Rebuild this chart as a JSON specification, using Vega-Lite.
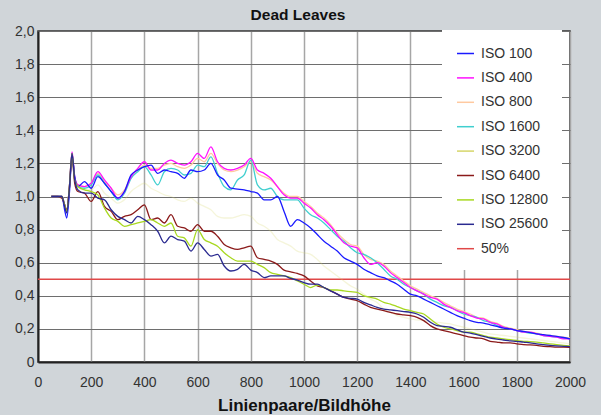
{
  "$schema": "https://vega.github.io/schema/vega-lite/v6.json",
  "width": 532,
  "height": 331,
  "autosize": "none",
  "padding": {"left": 38, "top": 31, "right": 31, "bottom": 53},
  "background": "#d0d5d9",
  "title": {"text": "Dead Leaves", "fontSize": 15.5, "fontWeight": "bold", "color": "#111", "anchor": "middle", "offset": 1, "dx": -6},
  "config": {
    "font": "Liberation Sans, Arial, sans-serif",
    "view": {"fill": "white", "stroke": "#333", "strokeWidth": 1.5}
  },
  "data": {"values": [
    {"x": 0, "50%": 0.5},
    {"x": 50, "ISO 100": 1.0, "ISO 400": 1.0, "ISO 800": 1.0, "ISO 1600": 1.0, "ISO 3200": 1.0, "ISO 6400": 1.0, "ISO 12800": 1.0, "ISO 25600": 1.0},
    {"x": 75, "ISO 100": 1.0, "ISO 400": 1.0, "ISO 800": 1.0, "ISO 1600": 1.0, "ISO 3200": 1.0, "ISO 6400": 1.0, "ISO 12800": 1.0, "ISO 25600": 1.0},
    {"x": 90, "ISO 100": 1.0, "ISO 400": 1.0, "ISO 800": 1.0, "ISO 1600": 1.0, "ISO 3200": 1.0, "ISO 6400": 0.99, "ISO 12800": 1.0, "ISO 25600": 1.0},
    {"x": 100, "ISO 100": 0.92, "ISO 400": 0.95, "ISO 800": 0.95, "ISO 1600": 0.95, "ISO 3200": 0.95, "ISO 6400": 0.95, "ISO 12800": 0.95, "ISO 25600": 0.94},
    {"x": 108, "ISO 100": 0.87, "ISO 400": 0.91, "ISO 800": 0.91, "ISO 1600": 0.91, "ISO 3200": 0.91, "ISO 6400": 0.92, "ISO 12800": 0.91, "ISO 25600": 0.9},
    {"x": 118, "ISO 100": 1.02, "ISO 400": 1.06, "ISO 800": 1.06, "ISO 1600": 1.06, "ISO 3200": 1.06, "ISO 6400": 1.05, "ISO 12800": 1.06, "ISO 25600": 1.05},
    {"x": 128, "ISO 100": 1.25, "ISO 400": 1.27, "ISO 800": 1.26, "ISO 1600": 1.26, "ISO 3200": 1.25, "ISO 6400": 1.24, "ISO 12800": 1.26, "ISO 25600": 1.26},
    {"x": 138, "ISO 100": 1.12, "ISO 400": 1.12, "ISO 800": 1.11, "ISO 1600": 1.11, "ISO 3200": 1.1, "ISO 6400": 1.08, "ISO 12800": 1.1, "ISO 25600": 1.1},
    {"x": 150, "ISO 100": 1.06, "ISO 400": 1.07, "ISO 800": 1.07, "ISO 1600": 1.06, "ISO 3200": 1.05, "ISO 6400": 1.03, "ISO 12800": 1.06, "ISO 25600": 1.04},
    {"x": 175, "ISO 100": 1.09, "ISO 400": 1.06, "ISO 800": 1.06, "ISO 1600": 1.05, "ISO 3200": 1.04, "ISO 6400": 1.02, "ISO 12800": 1.04, "ISO 25600": 1.02},
    {"x": 200, "ISO 100": 1.05, "ISO 400": 1.08, "ISO 800": 1.08, "ISO 1600": 1.07, "ISO 3200": 1.04, "ISO 6400": 0.97, "ISO 12800": 1.03, "ISO 25600": 1.02},
    {"x": 225, "ISO 100": 1.12, "ISO 400": 1.15, "ISO 800": 1.14, "ISO 1600": 1.13, "ISO 3200": 1.07, "ISO 6400": 1.03, "ISO 12800": 1.01, "ISO 25600": 0.99},
    {"x": 250, "ISO 100": 1.08, "ISO 400": 1.1, "ISO 800": 1.09, "ISO 1600": 1.08, "ISO 3200": 1.02, "ISO 6400": 0.94, "ISO 12800": 0.93, "ISO 25600": 0.98},
    {"x": 275, "ISO 100": 1.03, "ISO 400": 1.05, "ISO 800": 1.05, "ISO 1600": 1.03, "ISO 3200": 0.99, "ISO 6400": 0.91, "ISO 12800": 0.87, "ISO 25600": 0.92},
    {"x": 300, "ISO 100": 0.99, "ISO 400": 0.99, "ISO 800": 1.01, "ISO 1600": 0.98, "ISO 3200": 0.96, "ISO 6400": 0.86, "ISO 12800": 0.85, "ISO 25600": 0.88},
    {"x": 325, "ISO 100": 1.03, "ISO 400": 1.03, "ISO 800": 1.04, "ISO 1600": 1.02, "ISO 3200": 0.98, "ISO 6400": 0.88, "ISO 12800": 0.82, "ISO 25600": 0.86},
    {"x": 350, "ISO 100": 1.13, "ISO 400": 1.12, "ISO 800": 1.12, "ISO 1600": 1.11, "ISO 3200": 1.03, "ISO 6400": 0.89, "ISO 12800": 0.83, "ISO 25600": 0.84},
    {"x": 375, "ISO 100": 1.16, "ISO 400": 1.17, "ISO 800": 1.16, "ISO 1600": 1.15, "ISO 3200": 1.06, "ISO 6400": 0.92, "ISO 12800": 0.84, "ISO 25600": 0.88},
    {"x": 400, "ISO 100": 1.18, "ISO 400": 1.21, "ISO 800": 1.19, "ISO 1600": 1.18, "ISO 3200": 1.08, "ISO 6400": 0.95, "ISO 12800": 0.85, "ISO 25600": 0.86},
    {"x": 425, "ISO 100": 1.19, "ISO 400": 1.16, "ISO 800": 1.17, "ISO 1600": 1.13, "ISO 3200": 1.05, "ISO 6400": 0.86, "ISO 12800": 0.86, "ISO 25600": 0.83},
    {"x": 450, "ISO 100": 1.14, "ISO 400": 1.16, "ISO 800": 1.17, "ISO 1600": 1.07, "ISO 3200": 1.03, "ISO 6400": 0.87, "ISO 12800": 0.84, "ISO 25600": 0.79},
    {"x": 475, "ISO 100": 1.16, "ISO 400": 1.2, "ISO 800": 1.19, "ISO 1600": 1.15, "ISO 3200": 1.01, "ISO 6400": 0.84, "ISO 12800": 0.82, "ISO 25600": 0.72},
    {"x": 500, "ISO 100": 1.15, "ISO 400": 1.22, "ISO 800": 1.2, "ISO 1600": 1.17, "ISO 3200": 1.0, "ISO 6400": 0.89, "ISO 12800": 0.84, "ISO 25600": 0.76},
    {"x": 525, "ISO 100": 1.14, "ISO 400": 1.2, "ISO 800": 1.18, "ISO 1600": 1.16, "ISO 3200": 0.98, "ISO 6400": 0.82, "ISO 12800": 0.76, "ISO 25600": 0.74},
    {"x": 550, "ISO 100": 1.11, "ISO 400": 1.19, "ISO 800": 1.17, "ISO 1600": 1.13, "ISO 3200": 0.97, "ISO 6400": 0.81, "ISO 12800": 0.75, "ISO 25600": 0.73},
    {"x": 575, "ISO 100": 1.16, "ISO 400": 1.21, "ISO 800": 1.19, "ISO 1600": 1.14, "ISO 3200": 0.99, "ISO 6400": 0.79, "ISO 12800": 0.7, "ISO 25600": 0.67},
    {"x": 600, "ISO 100": 1.15, "ISO 400": 1.26, "ISO 800": 1.23, "ISO 1600": 1.19, "ISO 3200": 0.96, "ISO 6400": 0.83, "ISO 12800": 0.8, "ISO 25600": 0.72},
    {"x": 625, "ISO 100": 1.16, "ISO 400": 1.23, "ISO 800": 1.21, "ISO 1600": 1.18, "ISO 3200": 0.94, "ISO 6400": 0.79, "ISO 12800": 0.74, "ISO 25600": 0.68},
    {"x": 650, "ISO 100": 1.2, "ISO 400": 1.3, "ISO 800": 1.26, "ISO 1600": 1.24, "ISO 3200": 0.92, "ISO 6400": 0.79, "ISO 12800": 0.72, "ISO 25600": 0.64},
    {"x": 675, "ISO 100": 1.13, "ISO 400": 1.21, "ISO 800": 1.2, "ISO 1600": 1.14, "ISO 3200": 0.88, "ISO 6400": 0.76, "ISO 12800": 0.7, "ISO 25600": 0.65},
    {"x": 700, "ISO 100": 1.1, "ISO 400": 1.17, "ISO 800": 1.16, "ISO 1600": 1.06, "ISO 3200": 0.87, "ISO 6400": 0.71, "ISO 12800": 0.66, "ISO 25600": 0.58},
    {"x": 725, "ISO 100": 1.05, "ISO 400": 1.16, "ISO 800": 1.15, "ISO 1600": 1.04, "ISO 3200": 0.87, "ISO 6400": 0.69, "ISO 12800": 0.63, "ISO 25600": 0.55},
    {"x": 750, "ISO 100": 1.045, "ISO 400": 1.17, "ISO 800": 1.16, "ISO 1600": 1.1, "ISO 3200": 0.88, "ISO 6400": 0.68, "ISO 12800": 0.61, "ISO 25600": 0.56},
    {"x": 775, "ISO 100": 1.04, "ISO 400": 1.19, "ISO 800": 1.18, "ISO 1600": 1.13, "ISO 3200": 0.89, "ISO 6400": 0.69, "ISO 12800": 0.61, "ISO 25600": 0.59},
    {"x": 800, "ISO 100": 1.03, "ISO 400": 1.23, "ISO 800": 1.21, "ISO 1600": 1.22, "ISO 3200": 0.88, "ISO 6400": 0.7, "ISO 12800": 0.61, "ISO 25600": 0.555},
    {"x": 825, "ISO 100": 1.02, "ISO 400": 1.16, "ISO 800": 1.14, "ISO 1600": 1.07, "ISO 3200": 0.84, "ISO 6400": 0.63, "ISO 12800": 0.59, "ISO 25600": 0.54},
    {"x": 850, "ISO 100": 0.98, "ISO 400": 1.14, "ISO 800": 1.12, "ISO 1600": 1.04, "ISO 3200": 0.82, "ISO 6400": 0.62, "ISO 12800": 0.57, "ISO 25600": 0.51},
    {"x": 875, "ISO 100": 0.98, "ISO 400": 1.11, "ISO 800": 1.1, "ISO 1600": 1.05, "ISO 3200": 0.79, "ISO 6400": 0.61, "ISO 12800": 0.54, "ISO 25600": 0.52},
    {"x": 900, "ISO 100": 1.0, "ISO 400": 1.06, "ISO 800": 1.06, "ISO 1600": 1.0, "ISO 3200": 0.74, "ISO 6400": 0.59, "ISO 12800": 0.53, "ISO 25600": 0.52},
    {"x": 925, "ISO 100": 0.91, "ISO 400": 1.01, "ISO 800": 1.02, "ISO 1600": 0.98, "ISO 3200": 0.72, "ISO 6400": 0.555, "ISO 12800": 0.52, "ISO 25600": 0.52},
    {"x": 950, "ISO 100": 0.82, "ISO 400": 0.99, "ISO 800": 1.0, "ISO 1600": 0.98, "ISO 3200": 0.7, "ISO 6400": 0.545, "ISO 12800": 0.51, "ISO 25600": 0.505},
    {"x": 975, "ISO 100": 0.86, "ISO 400": 0.99, "ISO 800": 1.0, "ISO 1600": 0.98, "ISO 3200": 0.67, "ISO 6400": 0.535, "ISO 12800": 0.49, "ISO 25600": 0.495},
    {"x": 1000, "ISO 100": 0.84, "ISO 400": 0.96, "ISO 800": 0.97, "ISO 1600": 0.93, "ISO 3200": 0.66, "ISO 6400": 0.52, "ISO 12800": 0.47, "ISO 25600": 0.48},
    {"x": 1025, "ISO 100": 0.81, "ISO 400": 0.93, "ISO 800": 0.94, "ISO 1600": 0.89, "ISO 3200": 0.65, "ISO 6400": 0.49, "ISO 12800": 0.45, "ISO 25600": 0.47},
    {"x": 1050, "ISO 100": 0.77, "ISO 400": 0.89, "ISO 800": 0.9, "ISO 1600": 0.87, "ISO 3200": 0.62, "ISO 6400": 0.46, "ISO 12800": 0.465, "ISO 25600": 0.47},
    {"x": 1075, "ISO 100": 0.73, "ISO 400": 0.86, "ISO 800": 0.87, "ISO 1600": 0.84, "ISO 3200": 0.58, "ISO 6400": 0.45, "ISO 12800": 0.45, "ISO 25600": 0.45},
    {"x": 1100, "ISO 100": 0.7, "ISO 400": 0.82, "ISO 800": 0.83, "ISO 1600": 0.8, "ISO 3200": 0.55, "ISO 6400": 0.43, "ISO 12800": 0.435, "ISO 25600": 0.43},
    {"x": 1125, "ISO 100": 0.67, "ISO 400": 0.77, "ISO 800": 0.78, "ISO 1600": 0.76, "ISO 3200": 0.52, "ISO 6400": 0.41, "ISO 12800": 0.435, "ISO 25600": 0.41},
    {"x": 1150, "ISO 100": 0.63, "ISO 400": 0.72, "ISO 800": 0.74, "ISO 1600": 0.73, "ISO 3200": 0.49, "ISO 6400": 0.39, "ISO 12800": 0.43, "ISO 25600": 0.39},
    {"x": 1175, "ISO 100": 0.61, "ISO 400": 0.7, "ISO 800": 0.71, "ISO 1600": 0.69, "ISO 3200": 0.46, "ISO 6400": 0.38, "ISO 12800": 0.425, "ISO 25600": 0.385},
    {"x": 1200, "ISO 100": 0.59, "ISO 400": 0.69, "ISO 800": 0.7, "ISO 1600": 0.66, "ISO 3200": 0.44, "ISO 6400": 0.37, "ISO 12800": 0.42, "ISO 25600": 0.38},
    {"x": 1225, "ISO 100": 0.56, "ISO 400": 0.63, "ISO 800": 0.65, "ISO 1600": 0.65, "ISO 3200": 0.41, "ISO 6400": 0.35, "ISO 12800": 0.4, "ISO 25600": 0.36},
    {"x": 1250, "ISO 100": 0.54, "ISO 400": 0.59, "ISO 800": 0.62, "ISO 1600": 0.63, "ISO 3200": 0.38, "ISO 6400": 0.33, "ISO 12800": 0.39, "ISO 25600": 0.345},
    {"x": 1275, "ISO 100": 0.52, "ISO 400": 0.6, "ISO 800": 0.61, "ISO 1600": 0.6, "ISO 3200": 0.36, "ISO 6400": 0.32, "ISO 12800": 0.38, "ISO 25600": 0.33},
    {"x": 1300, "ISO 100": 0.51, "ISO 400": 0.58, "ISO 800": 0.59, "ISO 1600": 0.56, "ISO 3200": 0.32, "ISO 6400": 0.31, "ISO 12800": 0.36, "ISO 25600": 0.32},
    {"x": 1325, "ISO 100": 0.49, "ISO 400": 0.54, "ISO 800": 0.55, "ISO 1600": 0.52, "ISO 3200": 0.3, "ISO 6400": 0.3, "ISO 12800": 0.35, "ISO 25600": 0.315},
    {"x": 1350, "ISO 100": 0.47, "ISO 400": 0.51, "ISO 800": 0.52, "ISO 1600": 0.5, "ISO 3200": 0.28, "ISO 6400": 0.29, "ISO 12800": 0.335, "ISO 25600": 0.31},
    {"x": 1375, "ISO 100": 0.44, "ISO 400": 0.48, "ISO 800": 0.49, "ISO 1600": 0.47, "ISO 3200": 0.27, "ISO 6400": 0.285, "ISO 12800": 0.32, "ISO 25600": 0.305},
    {"x": 1400, "ISO 100": 0.41, "ISO 400": 0.45, "ISO 800": 0.46, "ISO 1600": 0.45, "ISO 3200": 0.26, "ISO 6400": 0.28, "ISO 12800": 0.31, "ISO 25600": 0.3},
    {"x": 1425, "ISO 100": 0.4, "ISO 400": 0.43, "ISO 800": 0.44, "ISO 1600": 0.43, "ISO 3200": 0.255, "ISO 6400": 0.27, "ISO 12800": 0.3, "ISO 25600": 0.29},
    {"x": 1450, "ISO 100": 0.38, "ISO 400": 0.41, "ISO 800": 0.42, "ISO 1600": 0.41, "ISO 3200": 0.25, "ISO 6400": 0.25, "ISO 12800": 0.29, "ISO 25600": 0.27},
    {"x": 1475, "ISO 100": 0.36, "ISO 400": 0.39, "ISO 800": 0.4, "ISO 1600": 0.38, "ISO 3200": 0.245, "ISO 6400": 0.22, "ISO 12800": 0.26, "ISO 25600": 0.24},
    {"x": 1500, "ISO 100": 0.34, "ISO 400": 0.38, "ISO 800": 0.385, "ISO 1600": 0.36, "ISO 3200": 0.24, "ISO 6400": 0.2, "ISO 12800": 0.23, "ISO 25600": 0.22},
    {"x": 1525, "ISO 100": 0.32, "ISO 400": 0.35, "ISO 800": 0.36, "ISO 1600": 0.34, "ISO 3200": 0.235, "ISO 6400": 0.19, "ISO 12800": 0.21, "ISO 25600": 0.215},
    {"x": 1550, "ISO 100": 0.3, "ISO 400": 0.33, "ISO 800": 0.34, "ISO 1600": 0.33, "ISO 3200": 0.23, "ISO 6400": 0.18, "ISO 12800": 0.2, "ISO 25600": 0.21},
    {"x": 1575, "ISO 100": 0.28, "ISO 400": 0.31, "ISO 800": 0.32, "ISO 1600": 0.31, "ISO 3200": 0.22, "ISO 6400": 0.17, "ISO 12800": 0.19, "ISO 25600": 0.195},
    {"x": 1600, "ISO 100": 0.265, "ISO 400": 0.3, "ISO 800": 0.305, "ISO 1600": 0.29, "ISO 3200": 0.21, "ISO 6400": 0.16, "ISO 12800": 0.18, "ISO 25600": 0.18},
    {"x": 1625, "ISO 100": 0.25, "ISO 400": 0.28, "ISO 800": 0.29, "ISO 1600": 0.28, "ISO 3200": 0.2, "ISO 6400": 0.15, "ISO 12800": 0.18, "ISO 25600": 0.175},
    {"x": 1650, "ISO 100": 0.24, "ISO 400": 0.265, "ISO 800": 0.27, "ISO 1600": 0.27, "ISO 3200": 0.19, "ISO 6400": 0.145, "ISO 12800": 0.17, "ISO 25600": 0.165},
    {"x": 1675, "ISO 100": 0.235, "ISO 400": 0.26, "ISO 800": 0.265, "ISO 1600": 0.25, "ISO 3200": 0.18, "ISO 6400": 0.14, "ISO 12800": 0.16, "ISO 25600": 0.155},
    {"x": 1700, "ISO 100": 0.225, "ISO 400": 0.24, "ISO 800": 0.245, "ISO 1600": 0.24, "ISO 3200": 0.17, "ISO 6400": 0.125, "ISO 12800": 0.15, "ISO 25600": 0.145},
    {"x": 1725, "ISO 100": 0.215, "ISO 400": 0.23, "ISO 800": 0.235, "ISO 1600": 0.22, "ISO 3200": 0.165, "ISO 6400": 0.12, "ISO 12800": 0.145, "ISO 25600": 0.138},
    {"x": 1750, "ISO 100": 0.205, "ISO 400": 0.21, "ISO 800": 0.215, "ISO 1600": 0.21, "ISO 3200": 0.16, "ISO 6400": 0.115, "ISO 12800": 0.14, "ISO 25600": 0.133},
    {"x": 1775, "ISO 100": 0.2, "ISO 400": 0.2, "ISO 800": 0.205, "ISO 1600": 0.2, "ISO 3200": 0.155, "ISO 6400": 0.115, "ISO 12800": 0.135, "ISO 25600": 0.128},
    {"x": 1800, "ISO 100": 0.19, "ISO 400": 0.19, "ISO 800": 0.195, "ISO 1600": 0.19, "ISO 3200": 0.15, "ISO 6400": 0.11, "ISO 12800": 0.13, "ISO 25600": 0.125},
    {"x": 1825, "ISO 100": 0.185, "ISO 400": 0.18, "ISO 800": 0.185, "ISO 1600": 0.18, "ISO 3200": 0.145, "ISO 6400": 0.105, "ISO 12800": 0.125, "ISO 25600": 0.12},
    {"x": 1850, "ISO 100": 0.177, "ISO 400": 0.18, "ISO 800": 0.18, "ISO 1600": 0.175, "ISO 3200": 0.14, "ISO 6400": 0.103, "ISO 12800": 0.123, "ISO 25600": 0.116},
    {"x": 1875, "ISO 100": 0.17, "ISO 400": 0.17, "ISO 800": 0.175, "ISO 1600": 0.17, "ISO 3200": 0.135, "ISO 6400": 0.1, "ISO 12800": 0.12, "ISO 25600": 0.11},
    {"x": 1900, "ISO 100": 0.165, "ISO 400": 0.16, "ISO 800": 0.165, "ISO 1600": 0.16, "ISO 3200": 0.13, "ISO 6400": 0.095, "ISO 12800": 0.115, "ISO 25600": 0.105},
    {"x": 1925, "ISO 100": 0.16, "ISO 400": 0.155, "ISO 800": 0.16, "ISO 1600": 0.155, "ISO 3200": 0.125, "ISO 6400": 0.093, "ISO 12800": 0.11, "ISO 25600": 0.1},
    {"x": 1950, "ISO 100": 0.155, "ISO 400": 0.15, "ISO 800": 0.155, "ISO 1600": 0.15, "ISO 3200": 0.12, "ISO 6400": 0.09, "ISO 12800": 0.105, "ISO 25600": 0.097},
    {"x": 1975, "ISO 100": 0.148, "ISO 400": 0.14, "ISO 800": 0.15, "ISO 1600": 0.145, "ISO 3200": 0.115, "ISO 6400": 0.09, "ISO 12800": 0.1, "ISO 25600": 0.095},
    {"x": 2000, "ISO 100": 0.14, "ISO 400": 0.14, "ISO 800": 0.145, "ISO 1600": 0.14, "ISO 3200": 0.11, "ISO 6400": 0.088, "ISO 12800": 0.097, "ISO 25600": 0.093, "50%": 0.5}
  ]},
  "transform": [
    {"fold": ["50%", "ISO 3200", "ISO 800", "ISO 1600", "ISO 400", "ISO 100", "ISO 6400", "ISO 12800", "ISO 25600"], "as": ["serie", "wert"]},
    {"filter": "isValid(datum.wert)"}
  ],
  "mark": {"type": "line", "strokeWidth": 1.3, "interpolate": "monotone"},
  "encoding": {
    "x": {
      "field": "x", "type": "quantitative",
      "scale": {"domain": [0, 2000], "nice": false},
      "axis": {
        "title": "Linienpaare/Bildhöhe",
        "values": [0, 200, 400, 600, 800, 1000, 1200, 1400, 1600, 1800, 2000],
        "format": "d",
        "ticks": false, "labelFlush": false,
        "domainColor": "#222", "domainWidth": 2,
        "gridColor": "#a6a6a6", "gridWidth": 1.5,
        "labelFontSize": 14, "labelColor": "#333", "labelPadding": 13,
        "titleFontSize": 17, "titleFontWeight": "bold", "titleColor": "#111", "titlePadding": 8
      }
    },
    "y": {
      "field": "wert", "type": "quantitative",
      "scale": {"domain": [0, 2], "nice": false},
      "axis": {
        "title": null,
        "values": [0, 0.2, 0.4, 0.6, 0.8, 1.0, 1.2, 1.4, 1.6, 1.8, 2.0],
        "labelExpr": "datum.value == 0 ? '0' : replace(format(datum.value, '.1f'), '.', ',')",
        "ticks": false, "labelFlush": false,
        "domainColor": "#222", "domainWidth": 2,
        "gridColor": "#6e6e6e", "gridWidth": 1,
        "labelFontSize": 14, "labelColor": "#333", "labelPadding": 4
      }
    },
    "color": {
      "field": "serie", "type": "nominal",
      "scale": {
        "domain": ["ISO 100", "ISO 400", "ISO 800", "ISO 1600", "ISO 3200", "ISO 6400", "ISO 12800", "ISO 25600", "50%"],
        "range": ["#1a1aff", "#ff10ff", "#ffc9a0", "#40cfcf", "#d6d66a", "#8b1a1a", "#a8d820", "#2a2a90", "#e04848"]
      },
      "legend": {
        "title": null, "orient": "none", "legendX": 404, "legendY": -1,
        "fillColor": "white", "padding": 14,
        "symbolType": "stroke", "symbolSize": 289, "symbolStrokeWidth": 1.5,
        "labelFontSize": 14, "labelColor": "#333", "labelOffset": 6, "rowPadding": 7.4,
        "symbolOpacity": 1,
        "encode": {"symbols": {"update": {"strokeOpacity": {"value": 1}, "opacity": {"value": 1}}}}
      }
    },
    "strokeOpacity": {
      "condition": {"test": "datum.serie == 'ISO 3200'", "value": 0.25},
      "value": 1
    }
  }
}
